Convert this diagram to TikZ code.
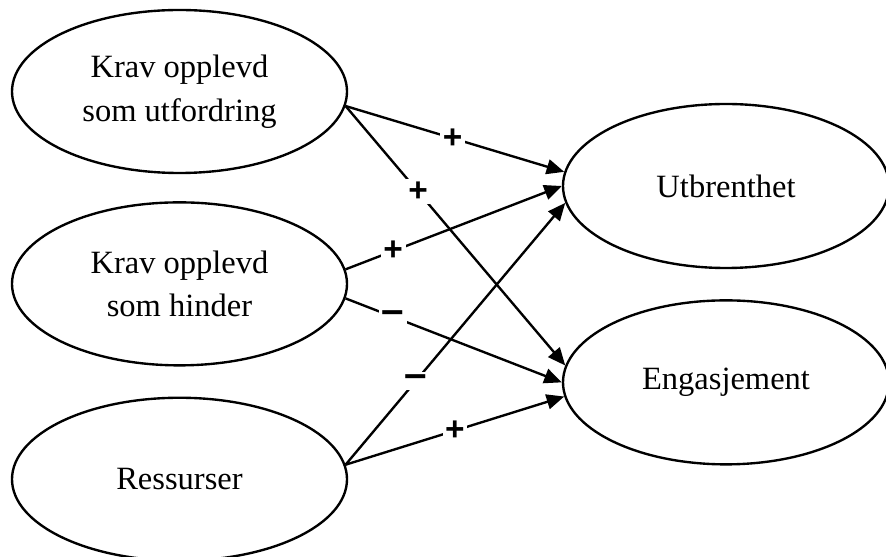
\documentclass[tikz,border=0pt]{standalone}
\usepackage{fontspec}
\setmainfont{Liberation Serif}
\newfontfamily\signfont{Liberation Sans}
\usetikzlibrary{shapes.geometric, arrows.meta, positioning}

\begin{document}
\begin{tikzpicture}[node distance=0.6cm, line width=1.35pt,
    factor/.style={ellipse, draw, minimum width=6.7cm, minimum height=3.26cm, align=center, inner sep=0pt, font=\fontsize{18.5}{25}\selectfont},
    outcome/.style={ellipse, draw, minimum width=6.52cm, minimum height=3.28cm, align=center, inner sep=0pt, font=\fontsize{18.5}{25}\selectfont},
    arrow/.style={-{Triangle[length=10pt, width=8.5pt]}},
    sign/.style={fill=white, inner sep=1.5pt, font=\signfont\bfseries\fontsize{19}{19}\selectfont},
    neg/.style={sign, font=\signfont\bfseries\fontsize{23}{23}\selectfont}]

    \useasboundingbox (0,0) rectangle (17.72,11.14);

    \node (utfordring) [factor] at (3.59,9.31) {Krav opplevd\\som utfordring};
    \node (hinder) [factor, below=0.54cm of utfordring] {Krav opplevd\\som hinder};
    \node (ressurser) [factor, below=0.6cm of hinder] {Ressurser};

    \node (utbrenthet) [outcome] at (14.52,7.42) {Utbrenthet};
    \node (engasjement) [outcome, below=0.6cm of utbrenthet] {Engasjement};

    \draw [arrow] (utfordring.-5) -- node[sign, pos=0.49] {+} (utbrenthet.175);
    \draw [arrow] (utfordring.-5) -- node[sign, pos=0.33] {+} (engasjement.174);
    \draw [arrow] (hinder.5) -- node[sign, pos=0.22] {+} (utbrenthet.180);
    \draw [arrow] (hinder.-5) -- node[neg, pos=0.22] {–} (engasjement.180);
    \draw [arrow] (ressurser.5) -- node[neg, pos=0.32] {–} (utbrenthet.186);
    \draw [arrow] (ressurser.5) -- node[sign, pos=0.5] {+} (engasjement.185);

\end{tikzpicture}
\end{document}
